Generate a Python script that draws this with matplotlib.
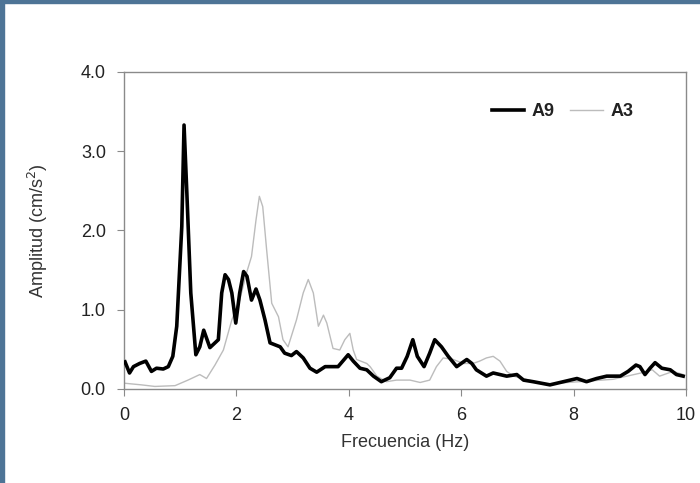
import matplotlib.pyplot as plt
from matplotlib.patches import Rectangle
from matplotlib.ticker import FormatStrFormatter

plt.rcParams['font.family'] = ['Liberation Sans', 'DejaVu Sans']

# A9 espectro (linea gruesa)
f_a9 = [0.02, 0.10, 0.17, 0.28, 0.39, 0.49, 0.58, 0.70, 0.79, 0.87, 0.94, 1.03, 1.07, 1.12,
        1.19, 1.28, 1.35, 1.42, 1.53, 1.68, 1.74, 1.80, 1.86, 1.92, 1.99, 2.06, 2.13, 2.19,
        2.27, 2.35, 2.42, 2.51, 2.60, 2.78, 2.86, 2.98, 3.07, 3.19, 3.31, 3.43, 3.58, 3.67,
        3.81, 3.99, 4.08, 4.20, 4.32, 4.44, 4.58, 4.73, 4.85, 4.94, 5.04, 5.14, 5.22, 5.34,
        5.44, 5.53, 5.65, 5.77, 5.92, 6.10, 6.19, 6.27, 6.45, 6.57, 6.81, 6.99, 7.11, 7.28,
        7.58, 7.82, 8.06, 8.23, 8.41, 8.59, 8.83, 8.97, 9.11, 9.18, 9.27, 9.36, 9.45, 9.57,
        9.72, 9.83, 9.95]
amp_a9 = [0.34, 0.20, 0.28, 0.32, 0.35, 0.22, 0.26, 0.25, 0.28, 0.41, 0.79, 2.05, 3.33, 2.47,
          1.21, 0.43, 0.53, 0.74, 0.52, 0.62, 1.21, 1.44, 1.38, 1.21, 0.83, 1.21, 1.48, 1.42,
          1.12, 1.26, 1.12, 0.87, 0.58, 0.53, 0.45, 0.42, 0.47, 0.39, 0.26, 0.21, 0.28, 0.28,
          0.28, 0.43, 0.35, 0.26, 0.24, 0.16, 0.09, 0.14, 0.26, 0.26, 0.41, 0.62, 0.41, 0.28,
          0.45, 0.62, 0.53, 0.41, 0.28, 0.37, 0.32, 0.24, 0.16, 0.20, 0.16, 0.18, 0.11, 0.09,
          0.05, 0.09, 0.13, 0.09, 0.13, 0.16, 0.16, 0.22, 0.30, 0.28, 0.18, 0.26, 0.33, 0.26,
          0.24, 0.18, 0.16]

# A3 espectro (linea fina gris)
f_a3 = [0.02, 0.31, 0.55, 0.91, 1.14, 1.35, 1.47, 1.62, 1.77, 1.92, 2.06, 2.18, 2.27, 2.35,
        2.41, 2.47, 2.54, 2.63, 2.75, 2.83, 2.92, 3.07, 3.19, 3.28, 3.37, 3.46, 3.55, 3.61,
        3.72, 3.84, 3.93, 4.02, 4.08, 4.14, 4.32, 4.38, 4.50, 4.67, 4.85, 5.09, 5.27, 5.44,
        5.56, 5.68, 5.86, 6.04, 6.21, 6.33, 6.45, 6.57, 6.69, 6.81, 6.93, 7.20, 7.50, 8.10,
        8.70, 9.20, 9.40, 9.53, 9.77, 9.95]
amp_a3 = [0.07, 0.05, 0.03, 0.04, 0.11, 0.18, 0.13, 0.30, 0.49, 0.87, 1.12, 1.46, 1.67, 2.13,
          2.43, 2.30, 1.75, 1.08, 0.91, 0.62, 0.53, 0.87, 1.21, 1.38, 1.21, 0.79, 0.93, 0.83,
          0.51, 0.49, 0.62, 0.70, 0.49, 0.37, 0.32, 0.28, 0.16, 0.09, 0.11, 0.11, 0.08, 0.11,
          0.28, 0.39, 0.37, 0.32, 0.32, 0.35, 0.39, 0.41, 0.35, 0.22, 0.16, 0.11, 0.06, 0.09,
          0.12, 0.20, 0.24, 0.16, 0.22, 0.18]

x_ticks = [0, 2, 4, 6, 8, 10]
y_ticks = [0.0, 1.0, 2.0, 3.0, 4.0]

fig = plt.figure(figsize=(7, 4.83), dpi=100)
ax = fig.add_axes([0.177, 0.195, 0.803, 0.656])

ax.plot(f_a9, amp_a9, color='black', lw=2.6, label='A9', zorder=3)
ax.plot(f_a3, amp_a3, color='#bcbcbc', lw=1.0, label='A3', zorder=2)

ax.set_xlim(0, 10)
ax.set_ylim(0, 4)
ax.set_xticks(x_ticks)
ax.set_yticks(y_ticks)
ax.yaxis.set_major_formatter(FormatStrFormatter('%.1f'))

for s in ax.spines.values():
    s.set_color('#8a8a8a')
    s.set_linewidth(1.0)
ax.tick_params(direction='out', length=5, color='#8a8a8a', labelsize=13,
               labelcolor='#222222', pad=8)

ax.set_xlabel('Frecuencia (Hz)', fontsize=13, color='#333333', labelpad=7)
ax.set_ylabel('Amplitud (cm/s$^2$)', fontsize=13, color='#333333', labelpad=22)

leg = ax.legend(loc='center right', ncol=2, frameon=False, fontsize=13,
                handlelength=1.8, columnspacing=0.9, handletextpad=0.4,
                bbox_to_anchor=(0.935, 0.875))
for t in leg.get_texts():
    t.set_fontweight('bold')
    t.set_color('#222222')

# borde azul del marco
fig.patches.append(Rectangle((0, 1 - 3 / 483), 1, 3 / 483, transform=fig.transFigure,
                             color='#4e7496', zorder=0))
fig.patches.append(Rectangle((0, 0), 4 / 700, 1, transform=fig.transFigure,
                             color='#4e7496', zorder=0))

fig.savefig('out.png', dpi=100)
